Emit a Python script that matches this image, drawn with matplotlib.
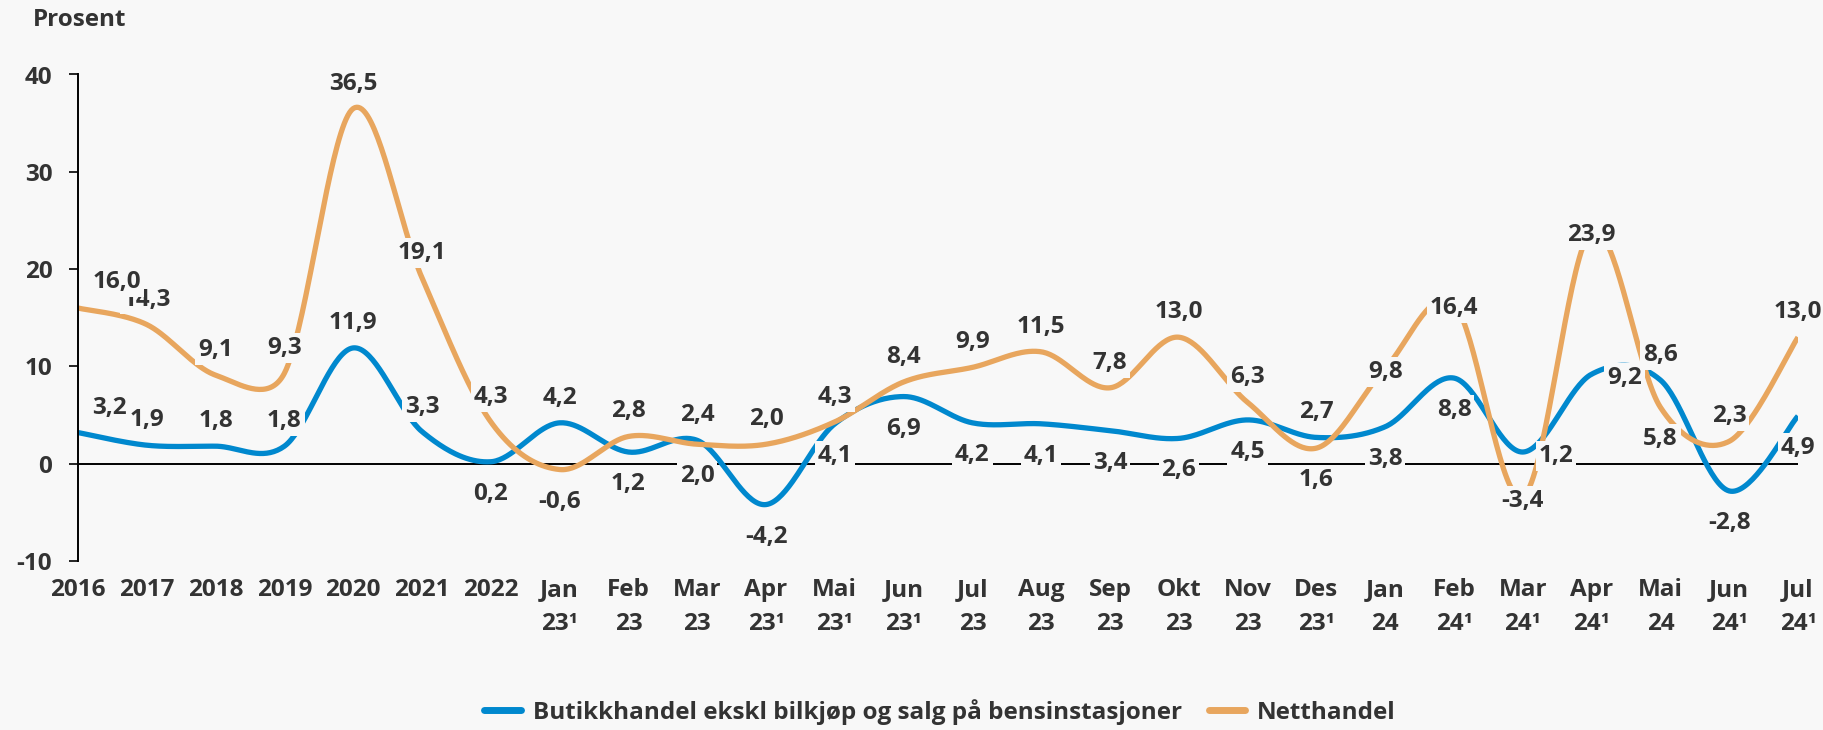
import numpy as np
import matplotlib; matplotlib.use("Agg")
import matplotlib.pyplot as plt
from matplotlib.lines import Line2D

plt.rcParams['font.family'] = ['Open Sans', 'DejaVu Sans']
plt.rcParams['font.weight'] = 'bold'
plt.rcParams['axes.unicode_minus'] = False

cats = ['2016', '2017', '2018', '2019', '2020', '2021', '2022',
        'Jan\n23¹', 'Feb\n23', 'Mar\n23', 'Apr\n23¹', 'Mai\n23¹', 'Jun\n23¹', 'Jul\n23',
        'Aug\n23', 'Sep\n23', 'Okt\n23', 'Nov\n23', 'Des\n23¹',
        'Jan\n24', 'Feb\n24¹', 'Mar\n24¹', 'Apr\n24¹', 'Mai\n24', 'Jun\n24¹', 'Jul\n24¹']
butikk = [3.2, 1.9, 1.8, 1.8, 11.9, 3.3, 0.2, 4.2, 1.2, 2.4, -4.2, 4.1, 6.9,
          4.2, 4.1, 3.4, 2.6, 4.5, 2.7, 3.8, 8.8, 1.2, 9.2, 8.6, -2.8, 4.9]
nett = [16.0, 14.3, 9.1, 9.3, 36.5, 19.1, 4.3, -0.6, 2.8, 2.0, 2.0, 4.3, 8.4,
        9.9, 11.5, 7.8, 13.0, 6.3, 1.6, 9.8, 16.4, -3.4, 23.9, 5.8, 2.3, 13.0]
names = ['Butikkhandel ekskl bilkjøp og salg på bensinstasjoner', 'Netthandel']

# where each data label sits relative to its point
pos_butikk = ['f1', 'a', 'a', 'a', 'a', 'a', 'b', 'a', 'b', 'a', 'b', 'b', 'b',
              'b', 'b', 'b', 'b', 'b', 'a', 'b', 'b', 'r', 'r', 'a', 'b', 'b']
pos_nett = ['f2', 'a', 'a', 'a', 'a', 'a', 'a', 'b', 'a', 'b', 'a', 'a', 'a',
            'a', 'a', 'a', 'a', 'a', 'b', 'c', 'c', 'c', 'c', 'b', 'a', 'a']
OFFS = {'a': (0, 25), 'b': (0, -32), 'c': (0, -4), 'r': (33, -4),
        'f1': (31, 25), 'f2': (39, 26)}

BG = '#f8f8f8'; INK = '#333333'; BLUE = '#0088ce'; ORANGE = '#e8a65e'
FS = 17.5

W, H = 1824, 730
fig = plt.figure(figsize=(W/100, H/100), dpi=100, facecolor=BG)
ax = fig.add_axes([78/W, 1-561/H, (1798-78)/W, (561-74.5)/H])
ax.set_facecolor(BG)
x = np.arange(len(cats))
ax.set_xlim(0, len(cats)-1); ax.set_ylim(-10, 40)


def excel_smooth(xs, ys):
    # bezier smoothing in pixel space, control arms capped at half the segment
    P = ax.transData.transform(np.column_stack([xs, ys]))
    P = np.vstack([P[0], P, P[-1]])
    tt = np.linspace(0, 1, 40)[:, None]
    out = []
    for i in range(1, len(P)-2):
        p0, p1, p2, p3 = P[i-1], P[i], P[i+1], P[i+2]
        half = np.hypot(*(p2-p1))/2
        a1 = (p2-p0)/6; a2 = (p3-p1)/6
        n1 = np.hypot(*a1); n2 = np.hypot(*a2)
        if n1 > half: a1 = a1*half/n1
        if n2 > half: a2 = a2*half/n2
        c1 = p1+a1; c2 = p2-a2
        seg = (1-tt)**3*p1 + 3*(1-tt)**2*tt*c1 + 3*(1-tt)*tt**2*c2 + tt**3*p2
        out.append(seg)
    return ax.transData.inverted().transform(np.vstack(out))


ax.axhline(0, color='black', lw=1.4, zorder=1)
for ys, col in [(butikk, BLUE), (nett, ORANGE)]:
    cur = excel_smooth(x, ys)
    ax.plot(cur[:, 0], cur[:, 1], color=col, lw=3.8, solid_capstyle='butt', zorder=2)
for ys, pos in [(butikk, pos_butikk), (nett, pos_nett)]:
    for xi, v, p in zip(x, ys, pos):
        ax.annotate(f'{v:.1f}'.replace('.', ','), (xi, v), xytext=OFFS[p],
                    textcoords='offset pixels', ha='center', va='center',
                    fontsize=FS, color=INK, zorder=6 if xi == 0 else 5,
                    annotation_clip=False,
                    bbox=dict(boxstyle='square,pad=0.12', fc=BG, ec='none'))

for s in ['top', 'right', 'bottom']:
    ax.spines[s].set_visible(False)
ax.spines['left'].set_linewidth(1.4)
ax.set_yticks([-10, 0, 10, 20, 30, 40])
ax.tick_params(axis='y', length=6.5, width=1.2, pad=12, labelsize=FS, labelcolor=INK)
ax.set_xticks(x)
ax.set_xticklabels(cats, linespacing=1.55)
ax.tick_params(axis='x', length=0, pad=12, labelsize=FS, labelcolor=INK)

fig.text(33/W, 1-20/H, 'Prosent', ha='left', va='center', fontsize=FS, color=INK)

handles = [Line2D([], [], color=BLUE, lw=5, solid_capstyle='round'),
           Line2D([], [], color=ORANGE, lw=5, solid_capstyle='round')]
fig.legend(handles, names, loc='center', bbox_to_anchor=(940/W, 1-712/H), ncol=2,
           frameon=False, fontsize=FS, labelcolor=INK, handlelength=1.5,
           handletextpad=0.5, columnspacing=1.1)

fig.savefig('out.png', dpi=100, facecolor=BG)
